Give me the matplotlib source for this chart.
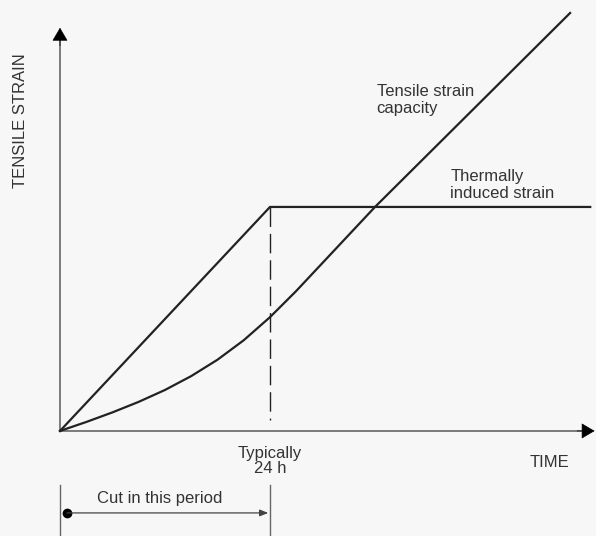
import matplotlib
matplotlib.use("Agg")
import matplotlib.pyplot as plt

plt.rcParams['font.family'] = ['Liberation Sans', 'DejaVu Sans']

# time in hours, strain in arbitrary units (plateau = 1)
thermal_t = [0, 24, 60.6]
thermal_s = [0, 1.0, 1.0]

capacity_t = [0, 3, 6, 9, 12, 15, 18, 21, 24, 27, 36, 58.3]
capacity_s = [0, 0.040, 0.083, 0.130, 0.183, 0.245, 0.318, 0.405, 0.508,
              0.625, 1.0, 1.866]

cut_time = 24
x_end = 61.1
y_end = 1.80

fig = plt.figure(figsize=(5.96, 5.36), dpi=100)
bg = '#f7f7f7'
fig.patch.set_facecolor(bg)
ax = fig.add_axes([0, 0, 1, 1])
ax.set_facecolor(bg)
ax.set_xlim(-6.857, 61.26)
ax.set_ylim(-0.469, 1.924)
ax.axis('off')

axis_col = '#666666'
line_col = '#222222'
text_col = '#333333'

# axes with arrow heads
ax.plot([0, 0], [0, y_end - 0.03], color=axis_col, lw=1.2)
ax.plot([0, x_end - 1], [0, 0], color=axis_col, lw=1.2)
head = dict(arrowstyle='-|>,head_length=0.85,head_width=0.5', color='black',
            lw=0.5, shrinkA=0, shrinkB=0)
ax.annotate('', xy=(0, y_end), xytext=(0, y_end - 0.08), arrowprops=head)
ax.annotate('', xy=(x_end, 0), xytext=(x_end - 2, 0), arrowprops=head)

# curves
ax.plot(thermal_t, thermal_s, color=line_col, lw=1.6, solid_joinstyle='miter')
ax.plot(capacity_t, capacity_s, color=line_col, lw=1.6, solid_joinstyle='round')
ax.plot([cut_time, cut_time], [thermal_s[1], 0.05], color=line_col, lw=1.0,
        ls=(0, (14, 5)))

# cut period marker below the axis
ax.plot([0, 0], [-0.241, -0.469], color=axis_col, lw=1.0)
ax.plot([cut_time, cut_time], [-0.241, -0.469], color=axis_col, lw=1.0)
ax.annotate('', xy=(cut_time - 0.2, -0.366), xytext=(0.8, -0.366),
            arrowprops=dict(arrowstyle='-|>,head_length=0.5,head_width=0.2',
                            color='#444444', lw=0.9, shrinkA=0, shrinkB=0))
ax.plot([0.8], [-0.366], 'o', color='black', ms=6)

fs = 12
ax.text(11.4, -0.30, 'Cut in this period', ha='center', va='center',
        fontsize=fs, color=text_col)
ax.text(cut_time, -0.135, 'Typically\n24 h', ha='center', va='center',
        multialignment='center', linespacing=1.05, fontsize=fs, color=text_col)
ax.text(56.0, -0.143, 'TIME', ha='center', va='center', fontsize=fs,
        color=text_col)
ax.text(-4.57, 1.384, 'TENSILE STRAIN', ha='center', va='center',
        rotation=90, fontsize=fs, color=text_col)
ax.text(36.2, 1.478, 'Tensile strain\ncapacity', ha='left', va='center',
        linespacing=1.2, fontsize=fs, color=text_col)
ax.text(44.6, 1.098, 'Thermally\ninduced strain', ha='left', va='center',
        linespacing=1.2, fontsize=fs, color=text_col)

fig.savefig('out.png', dpi=100, facecolor=bg)
